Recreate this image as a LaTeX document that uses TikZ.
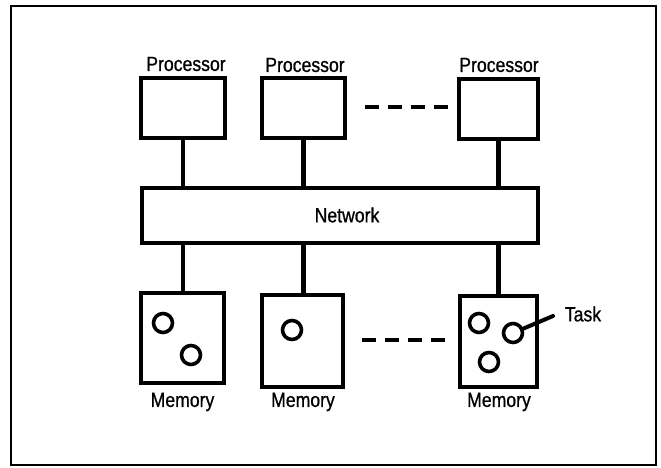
\documentclass[tikz,border=0pt]{standalone}
\usepackage{fontspec}
\setmainfont{Liberation Sans}[FakeStretch=0.86, FakeBold=0.8]
\begin{document}
\begin{tikzpicture}[x=1pt,y=-1pt,
  unit/.style={draw=black, line width=4.4pt, fill=white, inner sep=0pt},
  link/.style={line width=4.4pt},
  task/.style={circle, draw=black, line width=3.6pt, minimum size=19pt, inner sep=0pt},
  lbl/.style={font=\fontsize{20.5}{23}\selectfont, inner sep=0pt},
  gap/.style={line width=4pt, dash pattern=on 14pt off 9pt}]
\useasboundingbox (0,0) rectangle (661,467);
% outer frame
\draw[line width=2.8pt] (11,6) rectangle (656,465);

% processors
\node[unit, minimum width=84pt, minimum height=60pt] (p1) at (183,108) {};
\node[unit, minimum width=83pt, minimum height=60pt] (p2) at (303.5,108) {};
\node[unit, minimum width=79pt, minimum height=60pt] (p3) at (498.5,109) {};
\node[lbl] (lp1) at (186,64) {Processor};
\node[lbl] (lp2) at (305,65) {Processor};
\node[lbl] (lp3) at (499,65) {Processor};

% interconnection network
\node[unit, minimum width=396pt, minimum height=55pt] (net) at (340,215.5) {};
\node[lbl] (netlbl) at (347,215) {Network};

% memories
\node[unit, minimum width=83pt, minimum height=90pt] (m1) at (182.5,338) {};
\node[unit, minimum width=81pt, minimum height=92pt] (m2) at (302.5,341) {};
\node[unit, minimum width=77pt, minimum height=91pt] (m3) at (498.5,341.5) {};
\node[lbl] (lm1) at (182.5,402) {Memory};
\node[lbl] (lm2) at (303,402) {Memory};
\node[lbl] (lm3) at (499,402) {Memory};

% links processor -> network -> memory
\foreach \p/\m in {p1/m1, p2/m2, p3/m3} {
  \draw[link] (\p.south) -- (\p.south |- net.north);
  \draw[link] (\p.south |- net.south) -- (\p.south |- \m.north);
}

% "and so on" gaps
\coordinate (dt1) at (365,107);
\coordinate (dt2) at (448,107);
\coordinate (db1) at (362,340);
\coordinate (db2) at (445,340);
\draw[gap] (dt1) -- (dt2);
\draw[gap] (db1) -- (db2);

% tasks in memory
\node[task] (t1) at (163,323) {};
\node[task] (t2) at (191,355) {};
\node[task] (t3) at (292,330) {};
\node[task] (t4) at (479,323) {};
\node[task] (t5) at (513,333) {};
\node[task] (t6) at (489,362) {};
\coordinate (tend) at (553,316);
\draw[line width=4pt, line cap=round] (t5) -- (tend);
\node[lbl] (ltask) at (583,314) {Task};
\end{tikzpicture}
\end{document}
